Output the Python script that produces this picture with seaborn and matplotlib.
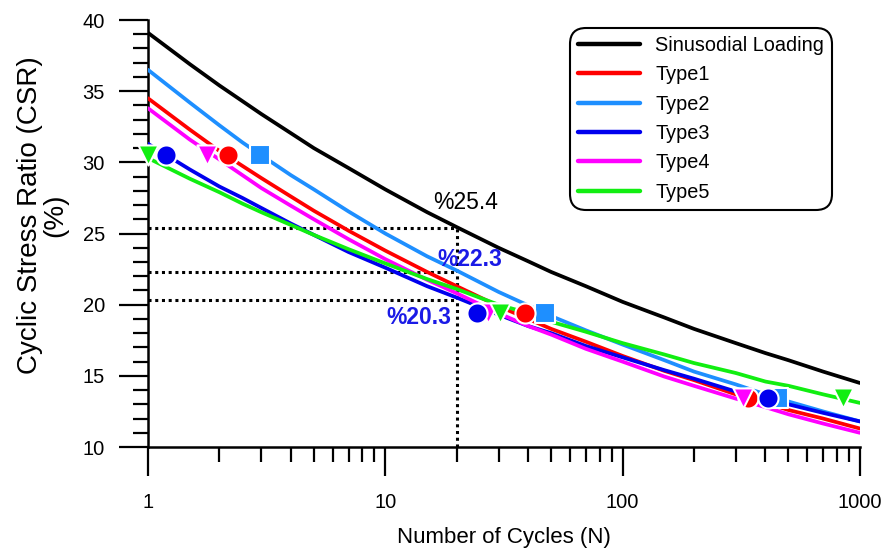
import numpy as np
import pandas as pd
import matplotlib
matplotlib.use("Agg")
import matplotlib.pyplot as plt
from matplotlib.ticker import MultipleLocator, LogLocator, NullFormatter
import seaborn as sns

# ---------------- data ----------------
cycles = [1, 1.5, 2, 2.5, 3, 4, 5, 7, 10, 15, 20, 30, 40, 50, 70, 100,
          150, 200, 300, 400, 500, 700, 1000]
sinusoidal = [39.1, 36.9, 35.4, 34.3, 33.4, 32.05, 31.0, 29.6, 28.1, 26.5, 25.45, 24.0,
              23.05, 22.3, 21.3, 20.2, 19.1, 18.3, 17.3, 16.6, 16.1, 15.3, 14.5]
type1 = [34.5, 32.3, 30.8, 29.75, 28.9, 27.6, 26.6, 25.2, 23.8, 22.3, 21.3, 19.9,
         19.0, 18.3, 17.4, 16.4, 15.35, 14.7, 13.7, 13.1, 12.6, 12.0, 11.3]
type2 = [36.5, 34.2, 32.6, 31.4, 30.5, 29.1, 28.1, 26.55, 25.0, 23.4, 22.4, 20.9,
         19.95, 19.2, 18.2, 17.2, 16.1, 15.3, 14.4, 13.7, 13.2, 12.5, 11.8]
type3 = [31.3, 29.5, 28.3, 27.5, 26.8, 25.7, 24.9, 23.7, 22.6, 21.3, 20.5, 19.3,
         18.5, 18.0, 17.1, 16.3, 15.4, 14.8, 13.9, 13.4, 13.0, 12.4, 11.8]
type4 = [33.8, 31.6, 30.2, 29.1, 28.2, 26.95, 26.0, 24.6, 23.2, 21.75, 20.8, 19.4,
         18.5, 17.9, 16.9, 16.0, 14.95, 14.3, 13.4, 12.8, 12.3, 11.65, 11.0]
type5 = [30.3, 28.85, 27.9, 27.1, 26.5, 25.6, 24.9, 23.9, 22.9, 21.8, 21.1, 20.0,
         19.4, 18.8, 18.1, 17.3, 16.5, 15.9, 15.2, 14.6, 14.3, 13.7, 13.1]

series_names = ["Sinusodial Loading", "Type1", "Type2", "Type3", "Type4", "Type5"]
series_values = [sinusoidal, type1, type2, type3, type4, type5]

# test points (cycles to reach given CSR levels)
csr_levels = [30.5, 19.44, 13.44]
type1_pts = [2.18, 38.8, 338]
type2_pts = [2.96, 47.1, 452]
type3_pts = [1.19, 24.4, 410]
type4_pts = [1.78, 27.1, 321]
type5_pts = [1.0, 30.4, 846]

ref_cycles = 20
ref_values = [25.4, 22.3, 20.3]
ref_labels = ["%25.4", "%22.3", "%20.3"]

x_ticks = [1, 10, 100, 1000]
x_tick_labels = ["1", "10", "100", "1000"]
y_ticks = [10, 15, 20, 25, 30, 35, 40]

# ---------------- styling ----------------
sns.set_theme(style="ticks")
plt.rcParams["font.family"] = ["Liberation Sans", "DejaVu Sans"]
plt.rcParams["text.color"] = "black"
plt.rcParams["axes.labelcolor"] = "black"
plt.rcParams["xtick.color"] = "black"
plt.rcParams["ytick.color"] = "black"

colors = {
    "Sinusodial Loading": "#000000",
    "Type1": "#ff0000",
    "Type2": "#1e8fff",
    "Type3": "#0000ee",
    "Type4": "#ff00ff",
    "Type5": "#11ee11",
}

fig = plt.figure(figsize=(8.81, 5.56), dpi=100)
ax = fig.add_axes([0.168, 0.196, 0.808, 0.768])

# curves
for name, vals in zip(series_names, series_values):
    sns.lineplot(x=cycles, y=vals, ax=ax, color=colors[name], linewidth=2.7,
                 label=name, zorder=3, estimator=None, sort=False)

# reference dotted lines
ax.hlines(ref_values, xmin=cycles[0], xmax=ref_cycles, colors="black",
          linestyles=(0, (1, 1.2)), linewidth=2.2, zorder=2)
ax.vlines(ref_cycles, ymin=10, ymax=max(ref_values), colors="black",
          linestyles=(0, (1, 1.2)), linewidth=2.2, zorder=2)

# markers
pts = pd.DataFrame({
    "N": type2_pts + type1_pts + type4_pts + type3_pts + type5_pts,
    "CSR": csr_levels * 5,
    "Series": ["Type2"] * 3 + ["Type1"] * 3 + ["Type4"] * 3 + ["Type3"] * 3 + ["Type5"] * 3,
})
marker_map = {"Type1": "o", "Type2": "s", "Type3": "o", "Type4": "v", "Type5": "v"}
for name in ["Type2", "Type1", "Type4", "Type3", "Type5"]:
    sub = pts[pts["Series"] == name]
    sns.scatterplot(data=sub, x="N", y="CSR", ax=ax, color=colors[name],
                    marker=marker_map[name], s=210, edgecolor="white",
                    linewidth=1.5, zorder=5, clip_on=False, legend=False)

# annotations
ax.text(21.7, 27.15, ref_labels[0], color="black", fontsize=16.5,
        ha="center", va="center", zorder=6)
ax.text(22.7, 23.15, ref_labels[1], color="#1a1ae6", fontsize=16.5,
        fontweight="bold", ha="center", va="center", zorder=6)
ax.text(13.9, 19.07, ref_labels[2], color="#1a1ae6", fontsize=16.5,
        fontweight="bold", ha="center", va="center", zorder=6)

# axes
ax.set_xscale("log")
ax.set_xlim(1, 1000)
ax.set_ylim(10, 40)
ax.set_xticks(x_ticks)
ax.set_xticklabels(x_tick_labels)
ax.xaxis.set_minor_locator(LogLocator(base=10, subs=np.arange(2, 10)))
ax.xaxis.set_minor_formatter(NullFormatter())
ax.set_yticks(y_ticks)
ax.yaxis.set_minor_locator(MultipleLocator(1))

for side in ["top", "right"]:
    ax.spines[side].set_visible(False)
for side in ["left", "bottom"]:
    ax.spines[side].set_linewidth(1.8)
    ax.spines[side].set_color("black")

ax.tick_params(axis="both", which="major", direction="out", length=21, width=1.6,
               colors="black", labelsize=14.5)
ax.tick_params(axis="both", which="minor", direction="out", length=11, width=1.6,
               colors="black")
ax.tick_params(axis="y", which="major", pad=10)
ax.tick_params(axis="x", which="major", pad=12)

ax.set_xlabel("Number of Cycles (N)", fontsize=16, labelpad=11)
ax.set_ylabel("Cyclic Stress Ratio (CSR)\n(%)", fontsize=20, labelpad=10,
              linespacing=1.0)
ax.yaxis.label.set_y(0.543)

leg = ax.legend(loc="upper right", bbox_to_anchor=(0.961, 0.981), fontsize=14.3,
                frameon=True, fancybox=True, handlelength=3.15, handletextpad=0.75,
                labelspacing=0.52, borderpad=0.4, borderaxespad=0)
frame = leg.get_frame()
frame.set_edgecolor("black")
frame.set_linewidth(1.5)
frame.set_facecolor("white")
frame.set_alpha(1)
frame.set_boxstyle("round,pad=0,rounding_size=0.8")
for line in leg.get_lines():
    line.set_linewidth(3.2)

ax.grid(False)
fig.savefig("out.png", dpi=100)
